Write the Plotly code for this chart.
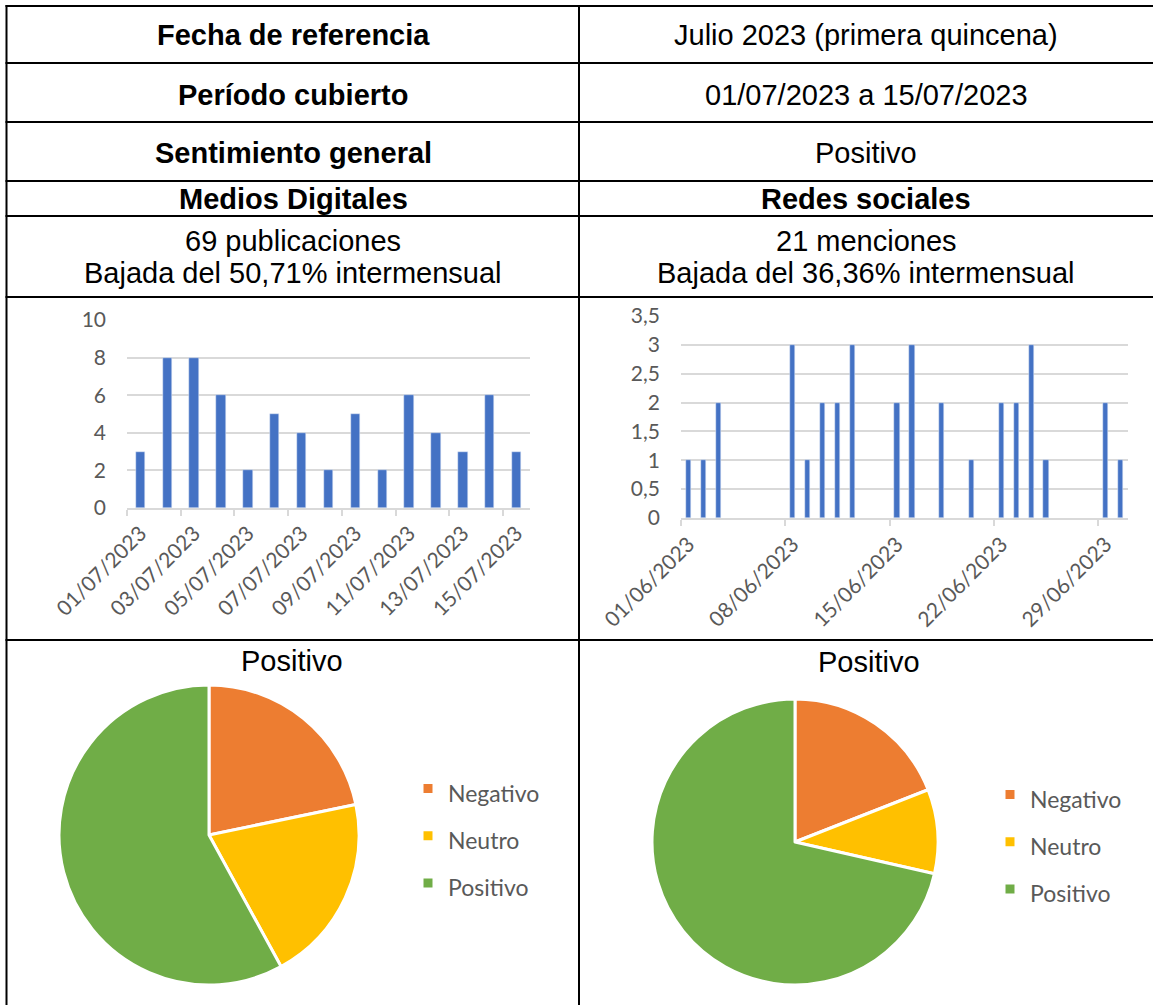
import plotly.graph_objects as go
import pandas as pd

W, H = 1153, 1005

# ---------------- data ----------------
medios_dates = ["01/07/2023", "02/07/2023", "03/07/2023", "04/07/2023", "05/07/2023",
                "06/07/2023", "07/07/2023", "08/07/2023", "09/07/2023", "10/07/2023",
                "11/07/2023", "12/07/2023", "13/07/2023", "14/07/2023", "15/07/2023"]
medios_values = [3, 8, 8, 6, 2, 5, 4, 2, 5, 2, 6, 4, 3, 6, 3]

redes_dates = ["01/06/2023", "02/06/2023", "03/06/2023", "08/06/2023", "09/06/2023",
               "10/06/2023", "11/06/2023", "12/06/2023", "15/06/2023", "16/06/2023",
               "18/06/2023", "20/06/2023", "22/06/2023", "23/06/2023", "24/06/2023",
               "25/06/2023", "29/06/2023", "30/06/2023"]
redes_values = [1, 1, 2, 3, 1, 2, 2, 3, 2, 3, 2, 1, 2, 2, 3, 1, 2, 1]
redes_tick_dates = ["01/06/2023", "08/06/2023", "15/06/2023", "22/06/2023", "29/06/2023"]

sent_labels = ["Negativo", "Neutro", "Positivo"]
medios_sent = [15, 14, 40]
redes_sent = [4, 2, 15]
sent_colors = ["#ED7D31", "#FFC000", "#70AD47"]

table_rows = [
    ("Fecha de referencia", "Julio 2023 (primera quincena)"),
    ("Período cubierto", "01/07/2023 a 15/07/2023"),
    ("Sentimiento general", "Positivo"),
]
section_titles = ("Medios Digitales", "Redes sociales")
medios_summary = ["69 publicaciones", "Bajada del 50,71% intermensual"]
redes_summary = ["21 menciones", "Bajada del 36,36% intermensual"]
pie_title = "Positivo"

# ---------------- helpers ----------------
def px(x):
    return x / W

def py(y):
    return 1 - y / H

BAR = "#4472C4"
GRID = "#D9D9D9"
TICK = "#595959"
TFONT = "Liberation Sans, Arial, sans-serif"
CFONT = "Lato, Calibri, sans-serif"
LEG_TEXT = 23   # visible legend label size
LEG_ROW = 34    # legend font size that sets row spacing

leg_labels = [f"<span style='font-size:{LEG_TEXT}px'>{l}</span>" for l in sent_labels]

fig = go.Figure()

# ---------------- bar chart: Medios ----------------
mx = list(range(len(medios_dates)))
fig.add_trace(go.Bar(x=mx, y=medios_values, marker_color=BAR, width=0.35,
                     xaxis="x", yaxis="y", showlegend=False))

# ---------------- bar chart: Redes ----------------
rd = pd.to_datetime(redes_dates, dayfirst=True)
fig.add_trace(go.Bar(x=rd, y=redes_values, marker_color=BAR, width=0.35 * 86400000,
                     xaxis="x2", yaxis="y2", showlegend=False))

# ---------------- pies ----------------
fig.add_trace(go.Pie(labels=leg_labels, values=medios_sent, sort=False,
                     direction="clockwise", rotation=0,
                     marker=dict(colors=sent_colors, line=dict(color="white", width=3)),
                     textinfo="none", hoverinfo="label+value+percent",
                     domain=dict(x=[px(59), px(359)], y=[py(985), py(685)]),
                     legend="legend", legendgroup="medios"))
fig.add_trace(go.Pie(labels=leg_labels, values=redes_sent, sort=False,
                     direction="clockwise", rotation=0,
                     marker=dict(colors=sent_colors, line=dict(color="white", width=3)),
                     textinfo="none", hoverinfo="label+value+percent",
                     domain=dict(x=[px(652), px(938)], y=[py(985), py(699)]),
                     legend="legend2", legendgroup="redes"))

# ---------------- axes ----------------
tick_font = dict(family=CFONT, size=21, color=TICK)
fig.update_layout(
    xaxis=dict(domain=[px(127), px(530)], range=[-0.5, len(mx) - 0.5],
               tickvals=mx[::2], ticktext=medios_dates[::2], tickangle=-45,
               ticks="", showgrid=False, showline=True, linecolor=GRID, linewidth=1.5,
               tickfont=tick_font, anchor="y", zeroline=False, ticklabelstandoff=3,
               minor=dict(tickvals=[v - 0.5 for v in mx[::2]], ticks="outside",
                          ticklen=6, tickcolor=GRID, tickwidth=1.5, showgrid=False)),
    yaxis=dict(domain=[py(508), py(320)], range=[0, 10], dtick=2,
               showgrid=True, gridcolor=GRID, gridwidth=1.5, zeroline=False,
               tickfont=tick_font, ticks="", anchor="x", showline=False,
               ticklabelstandoff=20),
    xaxis2=dict(domain=[px(681), px(1128)], type="date",
                range=[pd.Timestamp("2023-05-31 12:00"), pd.Timestamp("2023-06-30 12:00")],
                tickvals=pd.to_datetime(redes_tick_dates, dayfirst=True),
                ticktext=redes_tick_dates, tickangle=-45,
                ticks="", showgrid=False, showline=True, linecolor=GRID, linewidth=1.5,
                tickfont=tick_font, anchor="y2", zeroline=False, ticklabelstandoff=4,
                minor=dict(tickvals=pd.to_datetime(redes_tick_dates, dayfirst=True) - pd.Timedelta(hours=12),
                           ticks="outside", ticklen=6, tickcolor=GRID, tickwidth=1.5,
                           showgrid=False)),
    yaxis2=dict(domain=[py(518), py(316)], range=[0, 3.5], dtick=0.5,
                showgrid=True, gridcolor=GRID, gridwidth=1.5, zeroline=False,
                tickfont=tick_font, ticks="", anchor="x2", showline=False,
                ticklabelstandoff=20),
)

# ---------------- legends ----------------
leg_font = dict(family=CFONT, size=LEG_ROW, color=TICK)
fig.update_layout(
    legend=dict(x=px(408), y=py(836), xanchor="left", yanchor="middle",
                font=leg_font, bgcolor="rgba(0,0,0,0)"),
    legend2=dict(x=px(990), y=py(842), xanchor="left", yanchor="middle",
                 font=leg_font, bgcolor="rgba(0,0,0,0)"),
)

# ---------------- table lines ----------------
LINE = dict(color="black", width=2)
shapes = []
for yy in [6, 63, 122, 181, 216, 297, 640]:
    shapes.append(dict(type="line", xref="paper", yref="paper",
                       x0=px(5.5), x1=1, y0=py(yy), y1=py(yy), line=LINE))
for xx in [6.5, 579]:
    shapes.append(dict(type="line", xref="paper", yref="paper",
                       x0=px(xx), x1=px(xx), y0=py(5), y1=0, line=LINE))
fig.update_layout(shapes=shapes)

# ---------------- table texts ----------------
ann = []
LX, RX = 293, 866
FS = 29

def add_text(x, y, text, bold=False, size=FS, font=TFONT, color="black"):
    t = f"<b>{text}</b>" if bold else text
    ann.append(dict(x=px(x), y=py(y), xref="paper", yref="paper", text=t,
                    showarrow=False, xanchor="center", yanchor="middle",
                    font=dict(family=font, size=size, color=color)))

row_y = [35, 95, 153]
for (lab, val), yy in zip(table_rows, row_y):
    add_text(LX, yy, lab, bold=True)
    add_text(RX, yy, val)
add_text(LX, 199, section_titles[0], bold=True)
add_text(RX, 199, section_titles[1], bold=True)
add_text(LX, 241, medios_summary[0])
add_text(LX, 273, medios_summary[1])
add_text(RX, 241, redes_summary[0])
add_text(RX, 273, redes_summary[1])
add_text(292, 661, pie_title)
add_text(869, 662, pie_title)
fig.update_layout(annotations=ann)

fig.update_layout(width=W, height=H,
                  margin=dict(l=0, r=0, t=0, b=0, pad=0, autoexpand=False),
                  paper_bgcolor="white", plot_bgcolor="white",
                  separators=",.", bargap=0)

fig.write_html("out.html", config={"displayModeBar": False},
               post_script="document.body.style.margin='0';document.body.style.overflow='hidden';")
